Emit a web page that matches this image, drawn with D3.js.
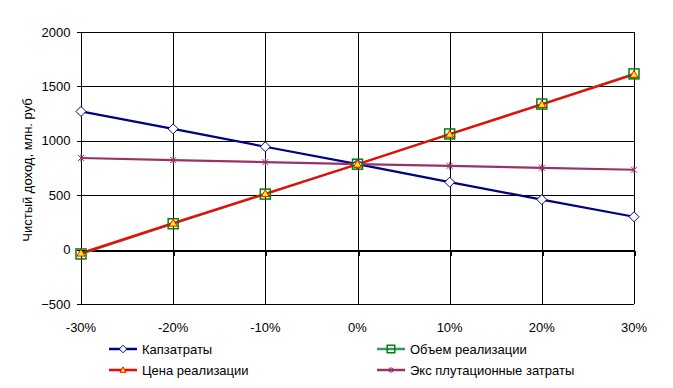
<!DOCTYPE html>
<html>
<head>
<meta charset="utf-8">
<script src="https://cdn.jsdelivr.net/npm/d3@7"></script>
<style>
body { margin: 0; background: #fff; }
text { font-family: "Liberation Sans", Arial, sans-serif; font-size: 13px; fill: #000; }
</style>
</head>
<body>
<svg width="673" height="388"></svg>
<script>
var categories = ["-30%", "-20%", "-10%", "0%", "10%", "20%", "30%"];
var yTicks = [-500, 0, 500, 1000, 1500, 2000];
var capex = [1270, 1110, 945, 785, 620, 460, 302];
var volume = [-40, 238, 510, 785, 1063, 1338, 1615];
var price = [-32, 243, 514, 785, 1060, 1334, 1610];
var opex = [842, 823, 804, 785, 770, 752, 734];

var series = [
    { name: "Капзатраты", values: capex, color: "#000080", mcolor: "#000080", marker: "diamond" },
    { name: "Объем реализации", values: volume, color: "#339966", mcolor: "#008000", marker: "square" },
    { name: "Цена реализации", values: price, color: "#ff0000", mcolor: "#ff0000", marker: "triangle" },
    { name: "Экс плутационные затраты", values: opex, color: "#993366", mcolor: "#993366", marker: "star" }
];

var plotL = 81, plotR = 634, plotT = 32, plotB = 304;
var svg = d3.select("svg");

var scX = d3.scalePoint().domain(categories).range([plotL, plotR]);
var scY = d3.scaleLinear().domain([-500, 2000]).range([plotB, plotT]);

// grid
var grid = svg.append("g").attr("stroke", "#000").attr("stroke-width", 1).attr("shape-rendering", "crispEdges");
grid.selectAll(".h").data(yTicks).enter().append("line")
    .attr("x1", plotL).attr("x2", plotR)
    .attr("y1", d => Math.round(scY(d)) + 0.5).attr("y2", d => Math.round(scY(d)) + 0.5);
grid.selectAll(".v").data(categories).enter().append("line")
    .attr("x1", d => Math.round(scX(d)) + 0.5).attr("x2", d => Math.round(scX(d)) + 0.5)
    .attr("y1", plotT).attr("y2", plotB);

// y axis
var yAxis = svg.append("g").attr("transform", "translate(" + (plotL + 0.5) + ",0)")
    .call(d3.axisLeft(scY).tickValues(yTicks).tickSize(5).tickPadding(6).tickFormat(d3.format("d")));
yAxis.select(".domain").remove();
yAxis.selectAll("line").attr("stroke", "#000").attr("shape-rendering", "crispEdges");
yAxis.selectAll("text").style("font-size", "13px").attr("font-family", null);

// zero axis
var y0 = Math.round(scY(0)) + 1;
svg.append("line").attr("x1", plotL).attr("x2", plotR + 1)
    .attr("y1", y0).attr("y2", y0).attr("stroke", "#000").attr("stroke-width", 2);
svg.append("g").selectAll("line").data(categories).enter().append("line")
    .attr("x1", d => Math.round(scX(d)) + 1).attr("x2", d => Math.round(scX(d)) + 1)
    .attr("y1", y0).attr("y2", y0 + 5).attr("stroke", "#000").attr("stroke-width", 2);

// x labels
svg.append("g").selectAll("text").data(categories).enter().append("text")
    .attr("x", d => scX(d)).attr("y", 332).attr("text-anchor", "middle").text(d => d);

// y title
svg.append("text").attr("transform", "translate(32," + ((plotT + plotB) / 2 + 2) + ") rotate(-90)")
    .attr("text-anchor", "middle").text("Чистый доход, млн. руб");

function drawMarker(g, type, color, k) {
    if (type === "diamond") {
        g.append("path").attr("d", "M0,-5L5,0L0,5L-5,0Z").attr("transform", "scale(" + k + ")")
            .attr("fill", "#fff").attr("stroke", color).attr("stroke-width", 1 / k);
    } else if (type === "square") {
        g.append("rect").attr("x", -5 * k).attr("y", -5 * k).attr("width", 10 * k).attr("height", 10 * k)
            .attr("fill", "none").attr("stroke", color).attr("stroke-width", 1.5);
    } else if (type === "triangle") {
        g.append("path").attr("d", "M0,-4L4,3L-4,3Z").attr("transform", "scale(" + k + ")")
            .attr("fill", "#ffff00").attr("stroke", color).attr("stroke-width", 1 / k);
    } else if (type === "star") {
        g.append("path").attr("d", "M-3,-3L3,3M-3,3L3,-3M0,-4L0,4").attr("transform", "scale(" + k + ")")
            .attr("stroke", color).attr("stroke-width", 1 / k);
    }
}

var lineMaker = d3.line().x((d, i) => scX(categories[i])).y(d => scY(d));

// draw in order: capex, opex, volume, price (price on top)
var drawOrder = [series[0], series[3], series[1], series[2]];
drawOrder.forEach(function (s) {
    svg.append("path").attr("d", lineMaker(s.values)).attr("fill", "none")
        .attr("stroke", s.color).attr("stroke-width", 2.2);
});
drawOrder.forEach(function (s) {
    var g = svg.append("g");
    s.values.forEach(function (v, i) {
        var m = g.append("g").attr("transform", "translate(" + scX(categories[i]) + "," + scY(v) + ")");
        drawMarker(m, s.marker, s.mcolor, 1);
    });
});

// legend
var legendPos = [[109, 349], [377, 349], [109, 370], [377, 370]];
series.forEach(function (s, i) {
    var p = legendPos[i];
    var g = svg.append("g").attr("transform", "translate(" + p[0] + "," + p[1] + ")");
    g.append("line").attr("x1", 0).attr("x2", 28).attr("y1", 0).attr("y2", 0)
        .attr("stroke", s.color).attr("stroke-width", 2.5);
    var m = g.append("g").attr("transform", "translate(14,0)");
    drawMarker(m, s.marker, s.mcolor, 0.75);
    g.append("text").attr("x", 33).attr("y", 4.5).text(s.name);
});
</script>
</body>
</html>
